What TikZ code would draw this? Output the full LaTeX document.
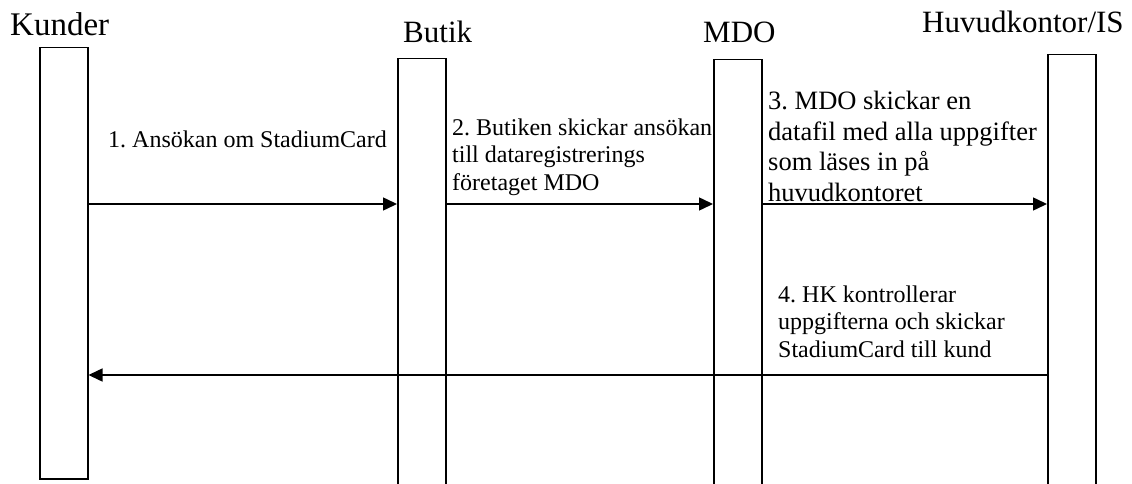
\documentclass[tikz,border=0pt]{standalone}
\usepackage{fontspec}
\setmainfont{Liberation Serif}
\usetikzlibrary{arrows.meta}
\frenchspacing
\begin{document}
\begin{tikzpicture}[x=1pt,y=-1pt,
  lifeline/.style={draw,line width=1.5pt,rectangle,minimum width=48pt,inner sep=0pt,anchor=north west},
  actor/.style={font=\fontsize{31}{31}\selectfont,inner sep=0pt,anchor=base west},
  msg/.style={line width=1.5pt,-{Triangle[length=14pt,width=13pt]}},
  note/.style={inner sep=0pt,anchor=north west,align=left,font=\fontsize{24}{27.6}\selectfont}]
  \clip (0,0) rectangle (1132,484);
  \fill[white] (0,0) rectangle (1132,484);

  % lifelines
  \node[lifeline,minimum height=431pt] (kunder) at (39,47) {};
  \node[lifeline,minimum height=460pt] (butik) at (397,58) {};
  \node[lifeline,minimum height=460pt] (mdo) at (713,59) {};
  \node[lifeline,minimum height=460pt] (hk) at (1047,54) {};

  % participant names
  \node[actor,font=\fontsize{33}{33}\selectfont] (tkunder) at (10,36) {Kunder};
  \node[actor] (tbutik) at (403,43) {Butik};
  \node[actor] (tmdo) at (703,43) {MDO};
  \node[actor] (thk) at (922,33) {Huvudkontor/IS};

  % message rows
  \coordinate (r1) at (0,204);
  \coordinate (r2) at (0,375);
  \draw[msg] (kunder.east |- r1) -- (butik.west |- r1);
  \draw[msg] (butik.east |- r1) -- (mdo.west |- r1);
  \draw[msg] (mdo.east |- r1) -- (hk.west |- r1);
  \draw[msg] (hk.west |- r2) -- (kunder.east |- r2);

  % message texts
  \node[note] (m1) at (108,130.5) {1. Ansökan om StadiumCard};
  \node[note] (m2) at (452,118.5) {2. Butiken skickar ansökan\\till dataregistrerings\\företaget MDO};
  \node[note,font=\fontsize{26.5}{30.5}\selectfont] (m3) at (768,91) {3. MDO skickar en\\datafil med alla uppgifter\\som läses in på\\huvudkontoret};
  \node[note] (m4) at (778,285.5) {4. HK kontrollerar\\uppgifterna och skickar\\StadiumCard till kund};
\end{tikzpicture}
\end{document}
